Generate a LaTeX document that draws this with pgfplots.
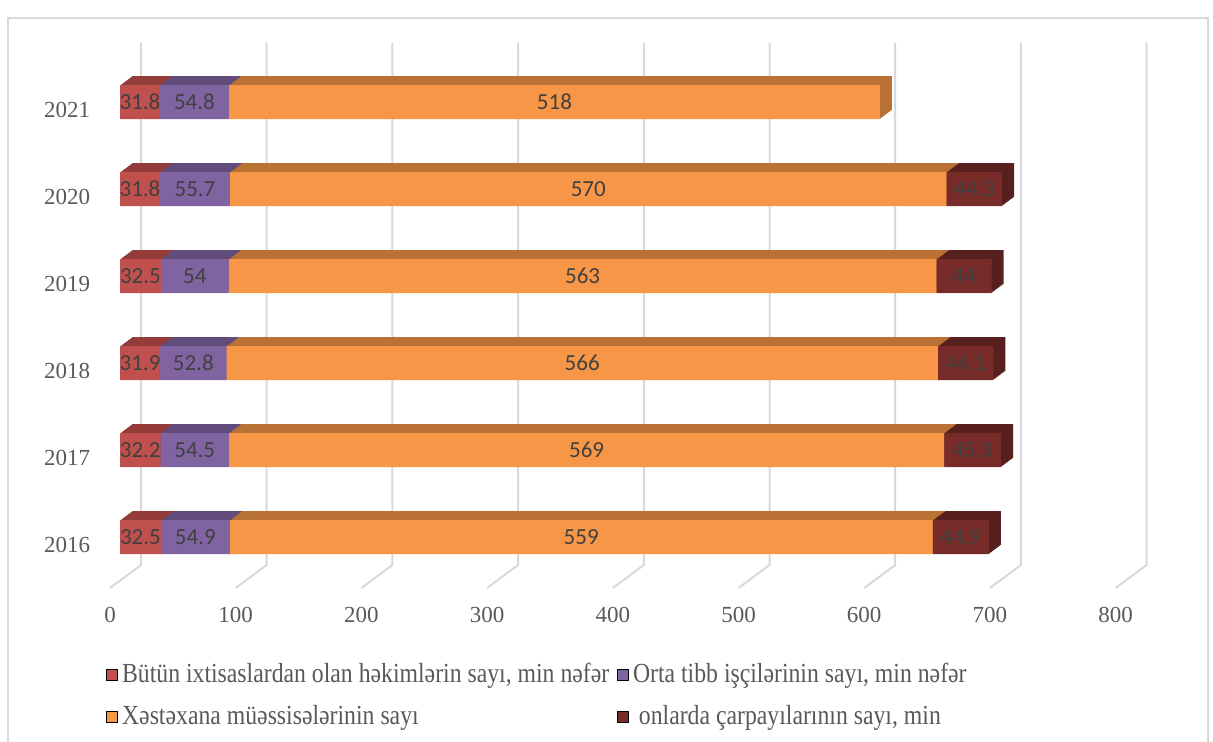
\documentclass[border=0pt]{standalone}
\usepackage{pgfplots}
\pgfplotsset{compat=1.18}
\usepackage{pgfplotstable}
\usepackage{fontspec}
\setmainfont{Liberation Serif}
\newfontfamily\lblfont{Carlito}
\newfontfamily\legfont[FakeStretch=0.86]{Liberation Serif}

\definecolor{cR}{HTML}{C0504D}
\definecolor{cRt}{HTML}{943C3A}
\definecolor{cP}{HTML}{8064A2}
\definecolor{cPt}{HTML}{624C7C}
\definecolor{cO}{HTML}{F79646}
\definecolor{cOt}{HTML}{BA7134}
\definecolor{cD}{HTML}{772C2A}
\definecolor{cDt}{HTML}{571F1E}
\definecolor{gridc}{HTML}{D9D9D9}
\definecolor{txt}{HTML}{595959}
\definecolor{lbl}{HTML}{404040}

% k: 0 = 2016 ... 5 = 2021
\pgfplotstableread{
k a b c d
0 32.5 54.9 559 44.9
1 32.2 54.5 569 45.3
2 31.9 52.8 566 44.1
3 32.5 54 563 44
4 31.8 55.7 570 44.3
5 31.8 54.8 518 nan
}\main
\pgfplotstableread{
k d
0 44.9
1 45.3
2 44.1
3 44
4 44.3
}\beds

\pgfplotsset{
  geom/.style={scale only axis, width=502.8pt, height=261pt,
    xmin=0, xmax=800, ymin=-0.5, ymax=5.5, anchor=south west, clip=false},
  bars/.style={xbar stacked, bar width=17pt},
}

\begin{document}
\begin{tikzpicture}
\useasboundingbox (0,0) rectangle (606.5pt,371pt);
\draw[gridc, line width=0.8pt] (4pt,-3pt) rectangle (604pt,362pt);

% back wall and floor grid, tick labels
\begin{axis}[geom, at={(60pt,80.7pt)},
  axis line style={draw=none}, major tick length=0pt,
  xtick={0,100,...,800}, ytick={0,...,5},
  yticklabels={2016,2017,2018,2019,2020,2021},
  /pgf/number format/assume math mode=true,
  ticklabel style={font=\fontsize{11.5}{13}\selectfont, text=txt},
  xticklabel style={anchor=center, xshift=-5pt, yshift=-17.2pt},
  yticklabel style={anchor=center, xshift=-26.5pt, yshift=-4pt}]
\addplot[draw=none] coordinates {(0,0)};
\pgfplotsinvokeforeach{0,100,200,300,400,500,600,700,800}{
  \draw[gridc, line width=1pt]
    ([shift={(-5pt,-3.7pt)}]axis cs:#1,-0.5)
    -- ([shift={(10.5pt,7.8pt)}]axis cs:#1,-0.5)
    -- ([shift={(10.5pt,7.8pt)}]axis cs:#1,5.5);
}
\end{axis}

% depth of the bars: shifted copies in the darker face colours
\foreach \s in {12,11,...,1}{
\begin{axis}[geom, bars, hide axis, at={(60pt+\s*0.5pt,80.7pt+\s*0.375pt)}]
\addplot[fill=cRt, draw=none] table[x=a, y=k]{\main};
\addplot[fill=cPt, draw=none] table[x=b, y=k]{\main};
\addplot[fill=cOt, draw=none] table[x=c, y=k]{\main};
\addplot[fill=cDt, draw=none] table[x=d, y=k]{\beds};
\end{axis}
}

% front faces and legend
\begin{axis}[geom, bars, hide axis, at={(60pt,80.7pt)},
  legend image code/.code={\fill[#1] (0pt,-2.75pt) rectangle (5.5pt,2.75pt);},
  legend style={at={(-0.02,-0.1425)}, anchor=north west, draw=none, fill=none,
    font=\legfont\fontsize{13.8}{15}\selectfont, text=txt, legend columns=2,
    cells={anchor=west}, row sep=6pt,
    /tikz/every even column/.append style={column sep=2pt}}]
\addplot[forget plot, fill=cR, draw=none] table[x=a, y=k]{\main};
\addplot[forget plot, fill=cP, draw=none] table[x=b, y=k]{\main};
\addplot[forget plot, fill=cO, draw=none] table[x=c, y=k]{\main};
\addplot[forget plot, fill=cD, draw=none] table[x=d, y=k]{\beds};
\addlegendimage{fill=cR}
\addlegendimage{fill=cP}
\addlegendimage{fill=cO}
\addlegendimage{fill=cD}
\legend{{Bütün ixtisaslardan olan həkimlərin sayı, min nəfər},
  {Orta tibb işçilərinin sayı, min nəfər},
  {Xəstəxana müəssisələrinin sayı},
  {\ onlarda çarpayılarının sayı, min}}
\end{axis}

% value labels, centred on each segment
\begin{axis}[geom, hide axis, at={(60pt,80.7pt)},
  /pgf/number format/assume math mode=true,
  every node near coord/.append style={font=\lblfont\fontsize{11.5}{13}\selectfont,
    text=lbl, anchor=center}]
\addplot[draw=none, mark=none, point meta=\thisrow{a}, nodes near coords]
  table[x expr={\thisrow{a}/2}, y=k]{\main};
\addplot[draw=none, mark=none, point meta=\thisrow{b}, nodes near coords]
  table[x expr={\thisrow{a}+\thisrow{b}/2}, y=k]{\main};
\addplot[draw=none, mark=none, point meta=\thisrow{c}, nodes near coords]
  table[x expr={\thisrow{a}+\thisrow{b}+\thisrow{c}/2}, y=k]{\main};
\addplot[draw=none, mark=none, point meta=\thisrow{d}, nodes near coords]
  table[x expr={\thisrow{a}+\thisrow{b}+\thisrow{c}+\thisrow{d}/2}, y=k]{\main};
\end{axis}
\end{tikzpicture}
\end{document}
